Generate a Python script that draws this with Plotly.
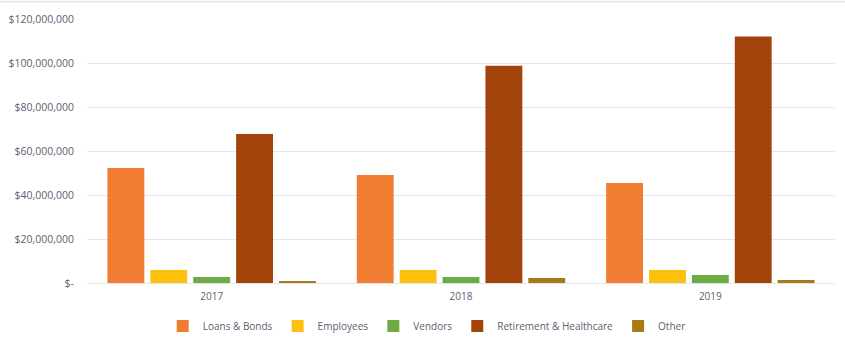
import plotly.graph_objects as go

years = ["2017", "2018", "2019"]
loans_bonds = [52_300_000, 49_100_000, 45_500_000]
employees = [5_900_000, 5_900_000, 5_900_000]
vendors = [2_700_000, 2_700_000, 3_600_000]
retirement_healthcare = [67_700_000, 98_700_000, 112_000_000]
other = [900_000, 2_300_000, 1_400_000]

series_names = ["Loans & Bonds", "Employees", "Vendors", "Retirement & Healthcare", "Other"]
series_values = [loans_bonds, employees, vendors, retirement_healthcare, other]
series_colors = ["#F07D32", "#FDC00F", "#6DAB45", "#A2430C", "#A67A17"]

tick_values = [0, 20_000_000, 40_000_000, 60_000_000, 80_000_000, 100_000_000, 120_000_000]
tick_labels = ["$-", "$20,000,000", "$40,000,000", "$60,000,000", "$80,000,000",
               "$100,000,000", "$120,000,000"]

fig = go.Figure()
for name, vals, color in zip(series_names, series_values, series_colors):
    fig.add_trace(go.Bar(name=name, x=years, y=vals, marker=dict(color=color, line_width=0)))

font_color = "#5B6170"
fig.update_layout(
    width=845, height=346,
    margin=dict(l=87, r=10, t=19, b=63, autoexpand=False),
    paper_bgcolor="white", plot_bgcolor="white",
    barmode="group", bargap=0.14, bargroupgap=0.14,
    font=dict(family="Open Sans, Liberation Sans, sans-serif", size=10, color=font_color),
    legend=dict(orientation="h", xref="container", yref="container",
                x=0.505, xanchor="center", y=0.058, yanchor="middle",
                font=dict(size=10, color=font_color), itemwidth=30,
                traceorder="normal", tracegroupgap=0),
    xaxis=dict(showgrid=False, showline=False, ticks="", tickfont=dict(size=10),
               ticklabelstandoff=6),
    yaxis=dict(range=[0, 120_000_000], tickvals=tick_values, ticktext=tick_labels,
               gridcolor="#E3E5EA", gridwidth=1, zeroline=True, zerolinecolor="#E3E5EA",
               zerolinewidth=1, ticks="", ticklabelstandoff=12, tickfont=dict(size=10.5)),
    shapes=[dict(type="line", xref="paper", yref="paper", x0=-0.2, x1=1.1, y0=1.065, y1=1.065,
                 line=dict(color="#E8EBEF", width=2))],
)

fig.write_html("out.html")
